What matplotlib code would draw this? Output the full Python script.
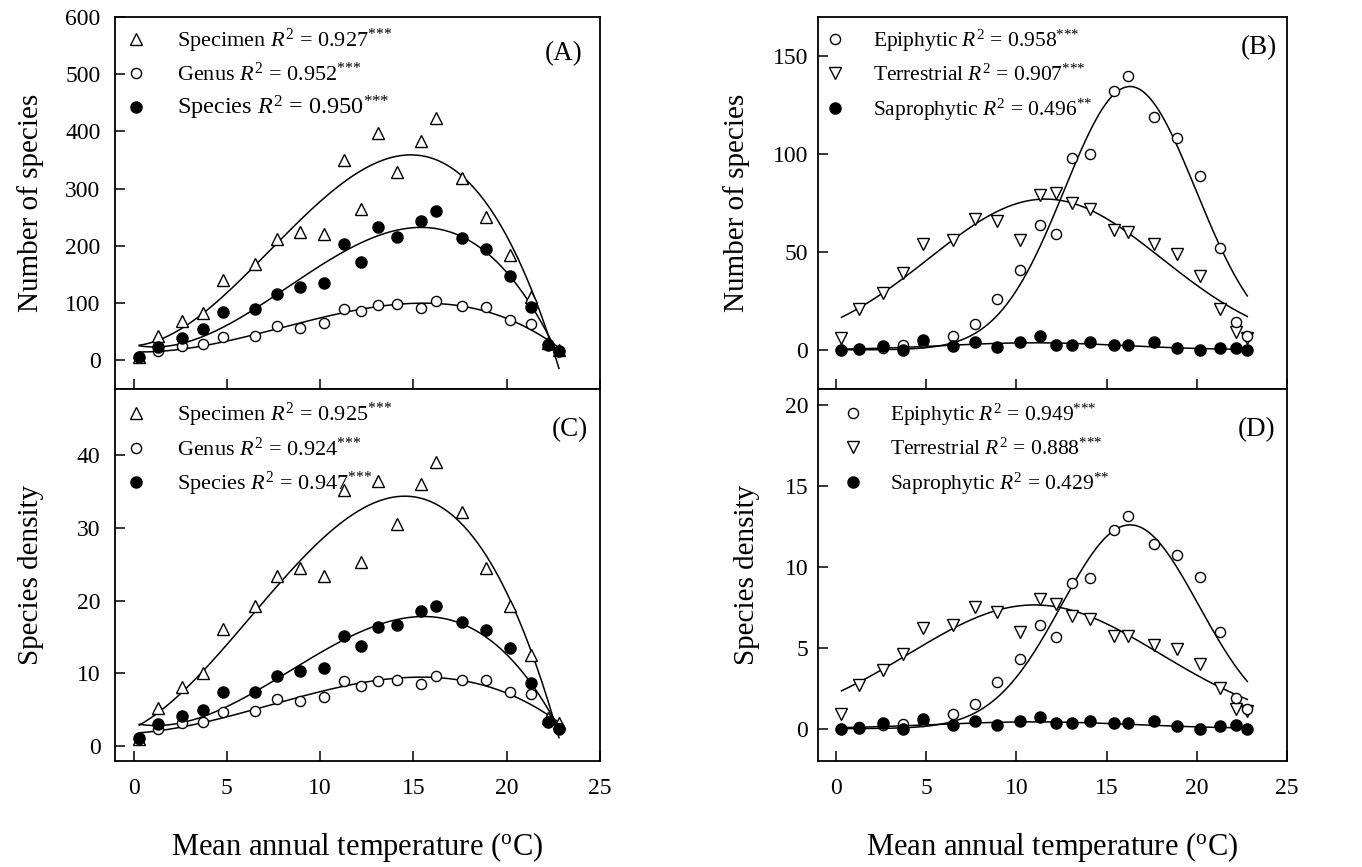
import numpy as np
import matplotlib
matplotlib.use('Agg')
import matplotlib.pyplot as plt

plt.rcParams['font.family'] = ['Liberation Serif', 'DejaVu Serif']
plt.rcParams['mathtext.fontset'] = 'custom'
plt.rcParams['mathtext.rm'] = 'Liberation Serif'
plt.rcParams['mathtext.it'] = 'Liberation Serif:italic'
plt.rcParams['mathtext.bf'] = 'Liberation Serif:bold'

# ---------------- data ----------------
temp = [0.3, 1.3, 2.6, 3.7, 4.8, 6.5, 7.7, 8.9, 10.2, 11.3, 12.2,
        13.1, 14.1, 15.4, 16.2, 17.6, 18.9, 20.2, 21.3, 22.2, 22.8]

# (A) number of species
a_specimen = [6, 42, 68, 83, 141, 168, 212, 225, 220, 351, 264,
              397, 330, 384, 424, 318, 250, 184, 111, 30, 18]
a_genus = [6, 17, 26, 29, 40, 42, 60, 56, 65, 90, 87,
           97, 98, 91, 103, 95, 93, 71, 64, 29, 17]
a_species = [6, 24, 39, 55, 84, 90, 116, 128, 136, 204, 172,
             233, 216, 244, 261, 214, 194, 148, 93, 27, 16]

# (B) number of species by life form
b_epiphytic = [0, 0.5, 1, 2.5, 4, 7, 13, 26, 41, 64, 59,
               98, 100, 132, 140, 119, 108, 89, 52, 14, 7]
b_terrestrial = [6.3, 21, 29, 39, 54, 56, 67, 66, 56, 79, 80,
                 75, 72, 61, 60, 54, 49, 37.5, 21, 9, 6]
b_saprophytic = [0, 0.3, 2, 0, 5, 2, 3.9, 1.7, 4, 7, 2.7,
                 2.7, 3.9, 2.7, 2.7, 4, 1, 0, 1, 0.7, 0]

# (C) species density
c_specimen = [1.0, 5.3, 8.1, 10.0, 16.1, 19.3, 23.4, 24.4, 23.3, 35.2, 25.3,
              36.4, 30.5, 36.0, 39.0, 32.2, 24.5, 19.3, 12.6, 3.9, 3.2]
c_genus = [1.0, 2.4, 3.2, 3.3, 4.7, 4.9, 6.5, 6.2, 6.8, 9.0, 8.3,
           8.9, 9.1, 8.6, 9.7, 9.1, 9.1, 7.5, 7.2, 3.4, 2.5]
c_species = [1.1, 3.1, 4.2, 5.0, 7.4, 7.5, 9.6, 10.4, 10.8, 15.2, 13.7,
             16.4, 16.6, 18.5, 19.2, 17.1, 15.9, 13.5, 8.7, 3.4, 2.4]

# (D) species density by life form
d_epiphytic = [0, 0.1, 0.2, 0.3, 0.5, 0.9, 1.5, 2.9, 4.3, 6.4, 5.65,
               9.0, 9.3, 12.3, 13.15, 11.4, 10.75, 9.4, 5.96, 1.9, 1.2]
d_terrestrial = [0.9, 2.7, 3.6, 4.6, 6.2, 6.4, 7.5, 7.2, 6.0, 8.0, 7.7,
                 6.95, 6.8, 5.75, 5.7, 5.2, 4.9, 4.0, 2.5, 1.2, 1.1]
d_saprophytic = [0, 0.05, 0.33, 0, 0.6, 0.2, 0.5, 0.25, 0.45, 0.7, 0.35,
                 0.35, 0.45, 0.35, 0.35, 0.45, 0.15, 0, 0.15, 0.25, 0]

# Gaussian peak-model parameters of the fitted curves (amplitude, centre, width)
b_epiphytic_fit = [134.5, 16.3, 3.65]
b_terrestrial_fit = [77.0, 11.6, 6.45]
b_saprophytic_fit = [3.6, 11.0, 5.0]
d_epiphytic_fit = [12.6, 16.3, 3.8]
d_terrestrial_fit = [7.65, 11.0, 6.95]
d_saprophytic_fit = [0.42, 11.0, 5.5]

S3 = r'$^{{*}{*}{*}}$'
S2 = r'$^{{*}{*}}$'
legend_A = [r'Specimen $R^2$ = 0.927' + S3, r'Genus $R^2$ = 0.952' + S3,
            r'Species $R^2$ = 0.950' + S3]
legend_B = [r'Epiphytic $R^2$ = 0.958' + S3, r'Terrestrial $R^2$ = 0.907' + S3,
            r'Saprophytic $R^2$ = 0.496' + S2]
legend_C = [r'Specimen $R^2$ = 0.925' + S3, r'Genus $R^2$ = 0.924' + S3,
            r'Species $R^2$ = 0.947' + S3]
legend_D = [r'Epiphytic $R^2$ = 0.949' + S3, r'Terrestrial $R^2$ = 0.888' + S3,
            r'Saprophytic $R^2$ = 0.429' + S2]

xticks = [0, 5, 10, 15, 20, 25]
xlabel = r'Mean annual temperature ($^{\rm o}$C)'


# ---------------- curve helpers ----------------
def cubic_curve(x, y):
    x = np.asarray(x, float); y = np.asarray(y, float)
    p = np.polyfit(x, y, 3)
    xx = np.linspace(x.min(), x.max(), 300)
    return xx, np.polyval(p, xx)


def gauss_curve(params):
    a, x0, b = params

    def f(x, y):
        x = np.asarray(x, float)
        xx = np.linspace(x.min(), x.max(), 300)
        return xx, a * np.exp(-0.5 * ((xx - x0) / b) ** 2)
    return f


# ---------------- figure ----------------
W, H = 1362, 867
fig = plt.figure(figsize=(W / 100, H / 100), dpi=100)


def rect(l, t, r, b):
    return [l / W, 1 - b / H, (r - l) / W, (b - t) / H]


axA = fig.add_axes(rect(115, 17, 600, 389))
axC = fig.add_axes(rect(115, 389, 600, 761))
axB = fig.add_axes(rect(818, 17, 1287, 389))
axD = fig.add_axes(rect(818, 389, 1287, 761))

open_tri = dict(marker='^', ms=8, mfc='white', mec='black', mew=1.0, ls='none', zorder=3)
open_dtri = dict(marker='v', ms=8, mfc='white', mec='black', mew=1.0, ls='none', zorder=3)
open_circ = dict(marker='o', ms=7.3, mfc='white', mec='black', mew=1.0, ls='none', zorder=4)
fill_circ = dict(marker='o', ms=8, mfc='black', mec='black', mew=1.0, ls='none', zorder=5)
line_kw = dict(color='black', lw=1.1, zorder=2)


def style(ax, ylim, yticks, show_x, ypad):
    ax.set_xlim(-1, 25)
    ax.set_ylim(*ylim)
    ax.set_xticks(xticks)
    ax.set_yticks(yticks)
    ax.tick_params(direction='in', length=7, width=1.1, labelsize=17,
                   top=False, right=False)
    ax.tick_params(axis='y', pad=ypad)
    ax.tick_params(axis='x', pad=12)
    if not show_x:
        ax.tick_params(axis='x', labelbottom=False)
    for s in ax.spines.values():
        s.set_linewidth(1.3)


def panel(ax, series, kinds, fits, labels, fontsizes, leg_anchor, hand_pad, lspace):
    handles = []
    for y, fit in zip(series, fits):
        xx, yy = fit(temp, y)
        ax.plot(xx, yy, **line_kw)
    for y, kind in zip(series, kinds):
        h, = ax.plot(temp, y, **kind)
        handles.append(h)
    leg = ax.legend(handles, labels, loc='upper left', bbox_to_anchor=leg_anchor,
                    frameon=False, handlelength=1.0, handletextpad=hand_pad,
                    borderaxespad=0, borderpad=0, labelspacing=lspace,
                    numpoints=1, fontsize=fontsizes[0])
    for t, fs in zip(leg.get_texts(), fontsizes):
        t.set_fontsize(fs)
    return leg


panel(axA, [a_specimen, a_genus, a_species], [open_tri, open_circ, fill_circ],
      [cubic_curve] * 3, legend_A, [16, 16, 17.5], (0.02, 0.974), 1.35, 0.35)
panel(axC, [c_specimen, c_genus, c_species], [open_tri, open_circ, fill_circ],
      [cubic_curve] * 3, legend_C, [16, 16, 16], (0.02, 0.969), 1.35, 0.4)
panel(axB, [b_epiphytic, b_terrestrial, b_saprophytic], [open_circ, open_dtri, fill_circ],
      [gauss_curve(b_epiphytic_fit), gauss_curve(b_terrestrial_fit),
       gauss_curve(b_saprophytic_fit)],
      legend_B, [15.5, 15.5, 15.5], (0.013, 0.972), 1.25, 0.5)
panel(axD, [d_epiphytic, d_terrestrial, d_saprophytic], [open_circ, open_dtri, fill_circ],
      [gauss_curve(d_epiphytic_fit), gauss_curve(d_terrestrial_fit),
       gauss_curve(d_saprophytic_fit)],
      legend_D, [15.5, 15.5, 15.5], (0.052, 0.966), 1.2, 0.5)

style(axA, (-50, 600), range(0, 601, 100), False, 10.5)
style(axC, (-2, 49), range(0, 41, 10), True, 10.5)
style(axB, (-20, 170), range(0, 151, 50), False, 7)
style(axD, (-2, 21), range(0, 21, 5), True, 7)

for ax, lab, dx, dy in [(axA, '(A)', 17, 37), (axC, '(C)', 12, 41),
                        (axB, '(B)', 10, 31), (axD, '(D)', 12, 41)]:
    bb = ax.get_position()
    x = bb.x1 - dx / W
    y = bb.y1 - dy / H
    fig.text(x, y, lab, ha='right', va='center', fontsize=19.5)

axA.set_ylabel('Number of species', fontsize=21)
axC.set_ylabel('Species density', fontsize=21)
axB.set_ylabel('Number of species', fontsize=21)
axD.set_ylabel('Species density', fontsize=21)
axA.yaxis.set_label_coords((44 - 115) / 485, 0.5)
axC.yaxis.set_label_coords((44 - 115) / 485, 0.5)
axB.yaxis.set_label_coords((750 - 818) / 469, 0.5)
axD.yaxis.set_label_coords((760 - 818) / 469, 0.5)

fig.text((115 + 600) / 2 / W, 1 - 847 / H, xlabel, ha='center', va='center', fontsize=22)
fig.text((818 + 1287) / 2 / W, 1 - 847 / H, xlabel, ha='center', va='center', fontsize=22)

fig.savefig('out.png', dpi=100)
